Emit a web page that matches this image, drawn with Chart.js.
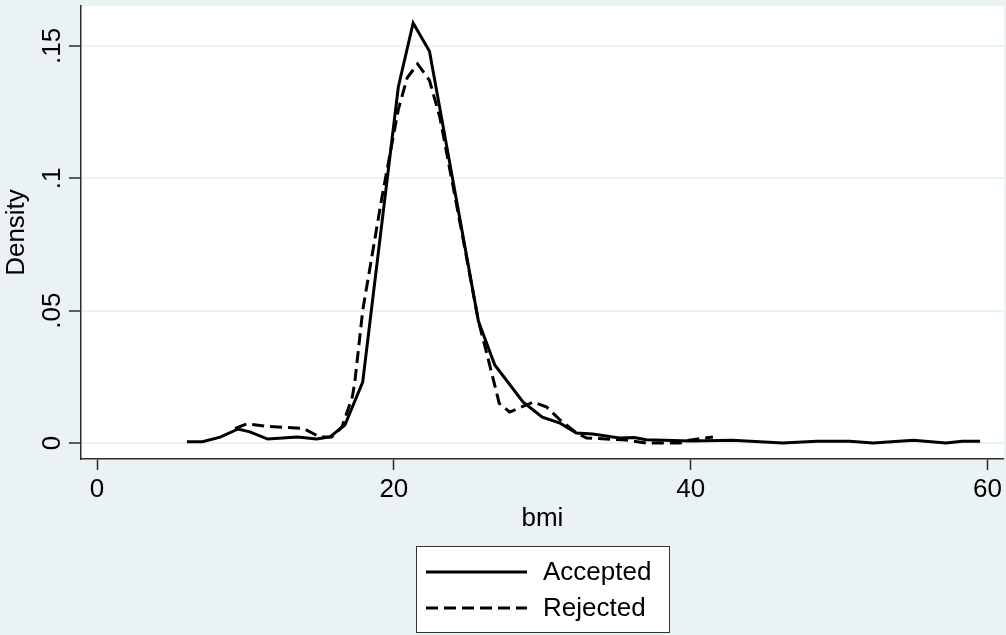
<!DOCTYPE html>
<html>
<head>
<meta charset="utf-8">
<script src="https://cdn.jsdelivr.net/npm/chart.js@4"></script>
<style>
  html, body { margin: 0; padding: 0; background: #EAF2F3; }
  #wrap { width: 1006px; height: 635px; position: relative; }
</style>
</head>
<body>
<div id="wrap"><canvas id="c"></canvas></div>
<script>
// ---- data ----
const seriesNames = ["Accepted", "Rejected"];
const acceptedBmi = [6.06, 7.1, 8.3, 9.5, 10.3, 11.5, 13.5, 14.8, 15.7, 16.7, 17.9, 20.3, 21.3, 22.4, 25.7, 26.8, 28.7, 30.0, 31.2, 32.3, 33.4, 35.2, 36.2, 37.0, 40.0, 42.8, 46.2, 48.5, 50.7, 52.3, 55.0, 57.2, 58.3, 59.5];
const acceptedDensity = [0.0005, 0.0005, 0.0022, 0.0053, 0.0042, 0.0015, 0.0023, 0.0015, 0.0023, 0.0068, 0.023, 0.1345, 0.1587, 0.148, 0.046, 0.0295, 0.0155, 0.0098, 0.0075, 0.0038, 0.0034, 0.0019, 0.0021, 0.0012, 0.0008, 0.001, 0.0, 0.0007, 0.0007, 0.0, 0.001, 0.0, 0.0007, 0.0007];
const rejectedBmi = [9.3, 10.1, 11.5, 13.9, 15.0, 15.8, 16.5, 17.2, 17.37, 17.9, 19.17, 20.3, 20.9, 21.6, 22.4, 23.1, 24.6, 25.7, 26.3, 27.1, 27.8, 29.4, 30.3, 31.2, 32.3, 33.0, 35.7, 37.0, 39.3, 39.9, 41.5];
const rejectedDensity = [0.0055, 0.0072, 0.0063, 0.0055, 0.0023, 0.0023, 0.006, 0.0174, 0.023, 0.05, 0.092, 0.126, 0.138, 0.1432, 0.137, 0.123, 0.079, 0.046, 0.033, 0.015, 0.0117, 0.0155, 0.0136, 0.0087, 0.0038, 0.0019, 0.0011, 0.0, 0.0, 0.0011, 0.0023];
const xTickValues = [0, 20, 40, 60];
const yTickValues = [0, 0.05, 0.1, 0.15];
const yTickLabels = ["0", ".05", ".1", ".15"];
const xTitle = "bmi";
const yTitle = "Density";

const FONT = "'Liberation Sans', Arial, sans-serif";
const BG = "#EAF2F3";
const AXIS = "#2b2b2b";

function pts(xs, ys) { return xs.map((x, i) => ({ x: x, y: ys[i] })); }

const plotBg = {
  id: 'plotBg',
  beforeDraw(chart) {
    const { ctx, chartArea: a } = chart;
    ctx.save();
    ctx.fillStyle = '#ffffff';
    ctx.fillRect(a.left, a.top, a.right - a.left, a.bottom - a.top);
    ctx.restore();
  }
};

const yLabels = {
  id: 'yLabels',
  afterDraw(chart) {
    const { ctx } = chart;
    const s = chart.scales.y;
    ctx.save();
    ctx.fillStyle = '#000';
    ctx.font = "26px " + FONT;
    ctx.textAlign = 'center';
    ctx.textBaseline = 'alphabetic';
    s.ticks.forEach((t, i) => {
      const py = s.getPixelForValue(t.value);
      ctx.save();
      ctx.translate(60, py);
      ctx.rotate(-Math.PI / 2);
      ctx.fillText(yTickLabels[yTickValues.indexOf(t.value)], 0, 0);
      ctx.restore();
    });
    ctx.restore();
  }
};

const boxLegend = {
  id: 'boxLegend',
  afterDraw(chart) {
    const { ctx } = chart;
    const L = 416.5, T = 546.5, W = 253, H = 86;
    ctx.save();
    ctx.fillStyle = '#ffffff';
    ctx.fillRect(L, T, W, H);
    ctx.strokeStyle = '#333';
    ctx.lineWidth = 1;
    ctx.strokeRect(L, T, W, H);
    const rows = [572, 608];
    chart.data.datasets.forEach((ds, i) => {
      const y = rows[i];
      ctx.beginPath();
      ctx.strokeStyle = '#000';
      ctx.lineWidth = 3;
      ctx.setLineDash(ds.borderDash || []);
      ctx.moveTo(426, y);
      ctx.lineTo(527, y);
      ctx.stroke();
      ctx.setLineDash([]);
      ctx.fillStyle = '#000';
      ctx.font = "26px " + FONT;
      ctx.textAlign = 'left';
      ctx.textBaseline = 'middle';
      ctx.fillText(ds.label, 543, y + 1);
    });
    ctx.restore();
  }
};

new Chart(document.getElementById('c'), {
  type: 'line',
  data: {
    datasets: [
      { label: seriesNames[0], data: pts(acceptedBmi, acceptedDensity), borderColor: '#000', borderWidth: 3, pointRadius: 0, tension: 0, fill: false },
      { label: seriesNames[1], data: pts(rejectedBmi, rejectedDensity), borderColor: '#000', borderWidth: 3, borderDash: [12, 6], pointRadius: 0, tension: 0, fill: false }
    ]
  },
  options: {
    responsive: true,
    maintainAspectRatio: false,
    animation: false,
    events: [],
    layout: { padding: { top: 6, right: 1, bottom: 101, left: 0 } },
    plugins: { legend: { display: false }, tooltip: { enabled: false } },
    scales: {
      x: {
        type: 'linear',
        min: -1.08,
        max: 61.1,
        afterBuildTicks(s) { s.ticks = xTickValues.map(v => ({ value: v })); },
        afterFit(s) { s.height = 75; },
        grid: { display: true, drawOnChartArea: false, drawTicks: true, tickLength: 11, tickColor: AXIS, tickWidth: 1.5 },
        border: { display: true, color: AXIS, width: 1.5 },
        ticks: { color: '#000', font: { family: FONT, size: 26 }, padding: 4, maxRotation: 0, callback: v => String(v) },
        title: { display: true, text: xTitle, color: '#000', font: { family: FONT, size: 26 }, padding: { top: 0, bottom: 0 } }
      },
      y: {
        type: 'linear',
        min: -0.00604,
        max: 0.1651,
        afterBuildTicks(s) { s.ticks = yTickValues.map(v => ({ value: v })); },
        afterFit(s) { s.width = 81; },
        grid: { display: true, drawOnChartArea: true, color: BG, lineWidth: 2, drawTicks: true, tickLength: 12, tickColor: AXIS, tickWidth: 1.5 },
        border: { display: true, color: AXIS, width: 1.5 },
        ticks: { display: false },
        title: { display: true, text: yTitle, color: '#000', font: { family: FONT, size: 26 }, padding: { top: 1, bottom: 0 } }
      }
    }
  },
  plugins: [plotBg, yLabels, boxLegend]
});
</script>
</body>
</html>
